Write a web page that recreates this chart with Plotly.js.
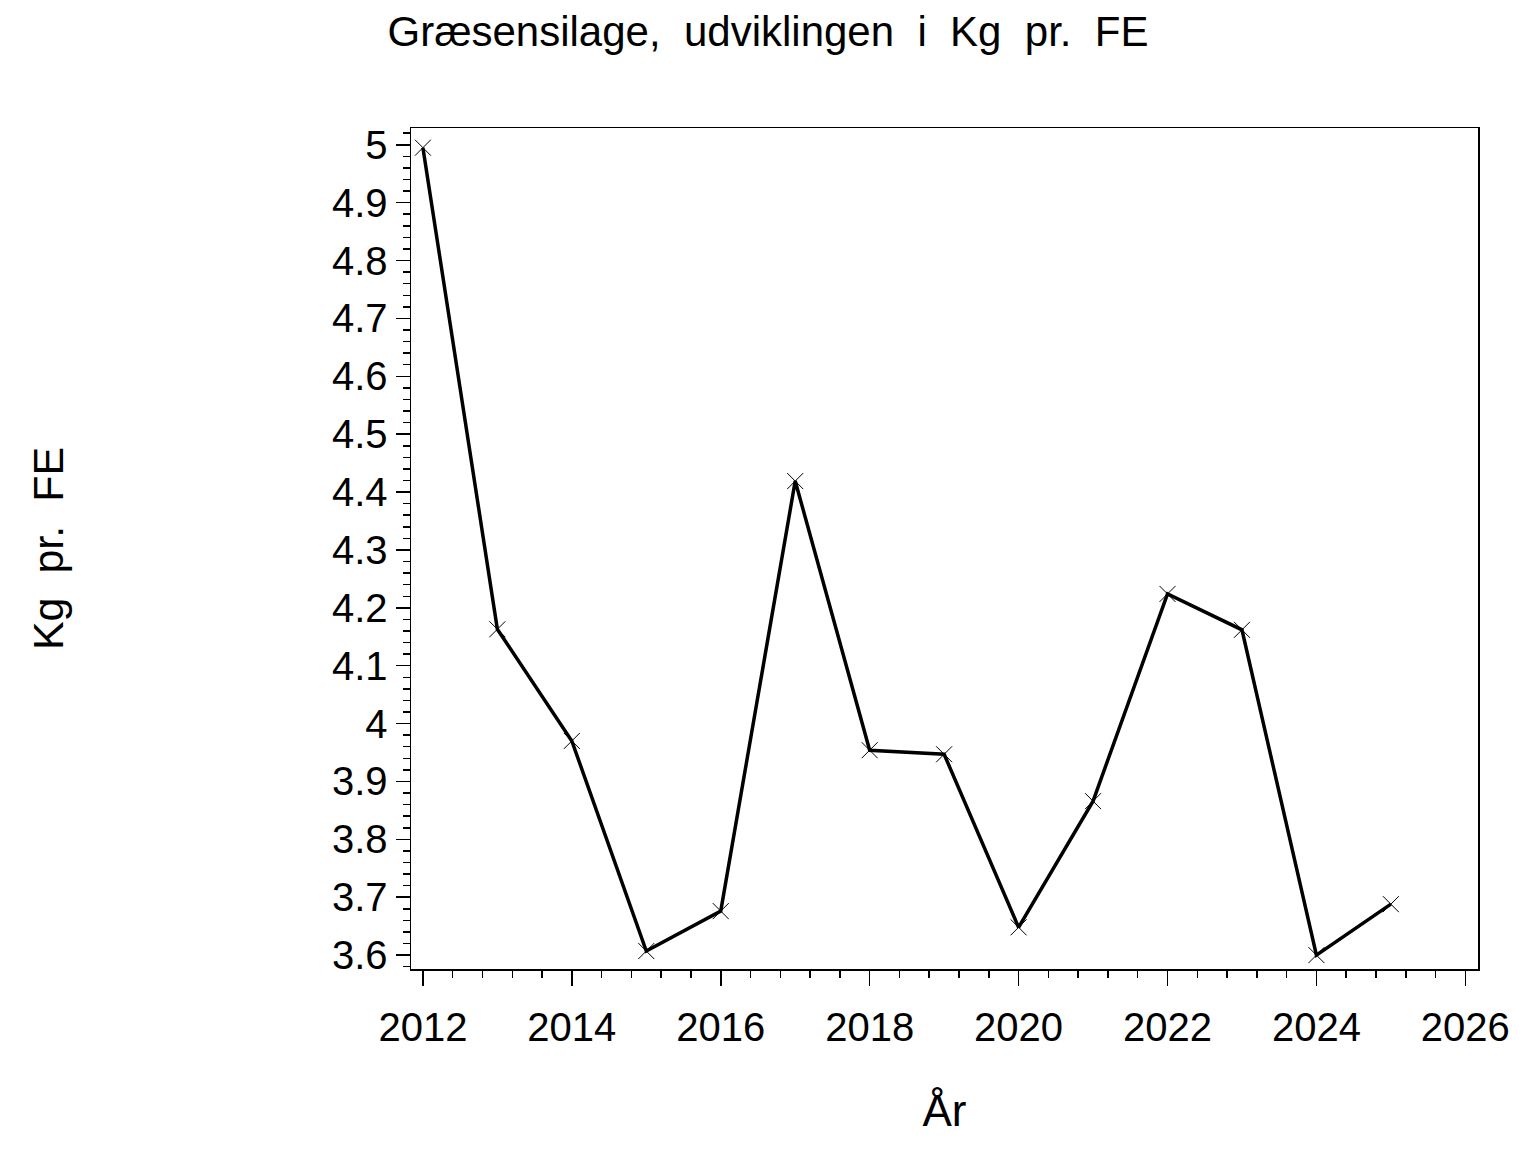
<!DOCTYPE html>
<html>
<head>
<meta charset="utf-8">
<script src="https://cdn.plot.ly/plotly-3.0.1.min.js"></script>
<style>html,body{margin:0;padding:0;background:#fff;}#chart{width:1536px;height:1152px;}</style>
</head>
<body>
<div id="chart"></div>
<script>
const years = [2012, 2013, 2014, 2015, 2016, 2017, 2018, 2019, 2020, 2021, 2022, 2023, 2024, 2025];
const kgPerFE = [4.995, 4.163, 3.970, 3.607, 3.676, 4.419, 3.954, 3.947, 3.648, 3.866, 4.224, 4.162, 3.600, 3.688];
const titleText = "Græsensilage,\u00A0 udviklingen\u00A0 i\u00A0 Kg\u00A0 pr.\u00A0 FE";
const xTitle = "År";
const yTitle = "Kg\u00A0 pr.\u00A0 FE";

const FONT = '"Liberation Sans", Arial, sans-serif';

const trace = {
  x: years, y: kgPerFE, type: 'scatter', mode: 'lines+markers',
  line: {color: '#000', width: 3.5},
  marker: {symbol: 'x-thin-open', size: 16, color: '#000', line: {color: '#000', width: 1}},
  hoverinfo: 'x+y'
};

const layout = {
  width: 1536, height: 1152,
  paper_bgcolor: '#fff', plot_bgcolor: '#fff',
  margin: {l: 411, r: 58, t: 128, b: 183},
  showlegend: false,
  font: {family: FONT, color: '#000', size: 40},
  title: {text: titleText, x: 0.5, xref: 'container', xanchor: 'center',
          y: 1 - 31/1152, yref: 'container', yanchor: 'middle',
          font: {family: FONT, size: 42, color: '#000'}},
  xaxis: {
    range: [2011.84, 2026.17], tick0: 2012, dtick: 2,
    ticks: 'outside', ticklen: 15, tickwidth: 1.5, tickcolor: '#000',
    minor: {dtick: 0.4, tick0: 2012, ticks: 'outside', ticklen: 7, tickwidth: 1.5, tickcolor: '#000'},
    showgrid: false, zeroline: false,
    showline: true, linecolor: '#000', linewidth: 1.5, mirror: true,
    tickfont: {family: FONT, size: 40, color: '#000'},
    ticklabelstandoff: 7,
    title: {text: xTitle, font: {family: FONT, size: 44, color: '#000'}, standoff: 47}
  },
  yaxis: {
    range: [3.576, 5.029], tick0: 3.6, dtick: 0.1,
    ticks: 'outside', ticklen: 14, tickwidth: 1.5, tickcolor: '#000',
    minor: {dtick: 0.02, tick0: 3.6, ticks: 'outside', ticklen: 7, tickwidth: 1.5, tickcolor: '#000'},
    showgrid: false, zeroline: false,
    showline: true, linecolor: '#000', linewidth: 1.5, mirror: true,
    tickfont: {family: FONT, size: 40, color: '#000'},
    ticklabelstandoff: 0,
    title: {text: yTitle, font: {family: FONT, size: 43, color: '#000'}, standoff: 255}
  }
};

Plotly.newPlot('chart', [trace], layout, {displayModeBar: false, staticPlot: true});
</script>
</body>
</html>
